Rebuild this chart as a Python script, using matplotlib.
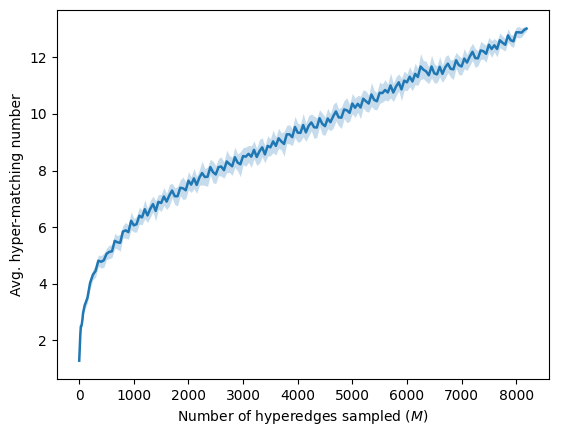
import numpy as np
import matplotlib
matplotlib.use('Agg')
import matplotlib.pyplot as plt

# sample positions (number of hyperedges sampled)
m_start = [0, 10, 20, 30, 40, 50, 60, 70, 80, 90]
m_main = list(range(100, 8200, 50))
m_end = [8190]

# mean hyper-matching number
avg_start = [1.27, 1.75, 2.20, 2.49, 2.50, 2.60, 2.75, 2.95, 3.05, 3.15]
avg_main = [
    3.23, 3.49, 4.03, 4.31, 4.45, 4.81, 4.77, 4.82, 5.05, 5.12,
    5.14, 5.51, 5.46, 5.44, 5.84, 5.88, 5.82, 6.22, 6.06, 6.10,
    6.40, 6.34, 6.63, 6.41, 6.64, 6.81, 6.57, 6.89, 6.85, 7.08,
    6.90, 7.12, 7.29, 7.09, 7.09, 7.39, 7.37, 7.30, 7.64, 7.50,
    7.72, 7.49, 7.75, 7.91, 7.77, 7.78, 8.12, 7.94, 7.86, 8.12,
    8.14, 8.01, 8.32, 8.23, 8.15, 8.47, 8.28, 8.22, 8.51, 8.49,
    8.59, 8.49, 8.73, 8.48, 8.68, 8.82, 8.57, 8.87, 8.82, 9.03,
    8.87, 9.14, 9.03, 8.94, 9.28, 9.28, 9.18, 9.54, 9.34, 9.33,
    9.61, 9.35, 9.58, 9.70, 9.53, 9.52, 9.85, 9.65, 9.57, 9.84,
    9.71, 9.92, 10.09, 9.88, 9.87, 10.16, 10.13, 10.04, 10.37, 10.22,
    10.36, 10.23, 10.54, 10.45, 10.37, 10.69, 10.50, 10.45, 10.75, 10.74,
    10.85, 10.76, 11.01, 10.76, 10.97, 11.12, 10.87, 11.18, 11.12, 11.32,
    11.15, 11.42, 11.31, 11.68, 11.57, 11.51, 11.37, 11.68, 11.44, 11.40,
    11.67, 11.42, 11.65, 11.78, 11.60, 11.58, 11.90, 11.73, 11.68, 11.96,
    11.82, 12.03, 12.20, 11.98, 11.97, 12.25, 12.22, 12.13, 12.45, 12.30,
    12.43, 12.30, 12.61, 12.52, 12.45, 12.78, 12.61, 12.57, 12.89, 12.89,
    12.88, 12.98,
]
avg_end = [13.02]

# half-width of the confidence band
err_start = [0.05, 0.08, 0.10, 0.10, 0.12, 0.12, 0.12, 0.14, 0.14, 0.15]
err_main = [
    0.15, 0.18, 0.20, 0.18, 0.22, 0.20, 0.22, 0.25, 0.20, 0.24,
    0.22, 0.26, 0.24, 0.30, 0.22, 0.28, 0.25, 0.32, 0.24, 0.28,
    0.30, 0.26, 0.34, 0.25, 0.30, 0.28, 0.36, 0.26, 0.30, 0.32,
    0.28, 0.38, 0.26, 0.30, 0.34, 0.28, 0.40, 0.30, 0.32, 0.28,
    0.36, 0.30, 0.28, 0.42, 0.30, 0.34, 0.28, 0.38, 0.32, 0.30,
    0.34, 0.28, 0.40, 0.30, 0.32, 0.36, 0.30, 0.44, 0.30, 0.34,
    0.30, 0.38, 0.32, 0.30, 0.42, 0.34, 0.30, 0.36, 0.30, 0.40,
    0.32, 0.36, 0.30, 0.44, 0.32, 0.34, 0.30, 0.38, 0.34, 0.30,
    0.42, 0.32, 0.36, 0.30, 0.40, 0.34, 0.30, 0.38, 0.32, 0.36,
    0.30, 0.42, 0.34, 0.30, 0.38, 0.32, 0.44, 0.30, 0.36, 0.34,
    0.30, 0.40, 0.32, 0.36, 0.30, 0.42, 0.34, 0.30, 0.38, 0.32,
    0.36, 0.30, 0.44, 0.32, 0.34, 0.30, 0.40, 0.34, 0.30, 0.36,
    0.32, 0.38, 0.30, 0.46, 0.32, 0.36, 0.30, 0.40, 0.34, 0.30,
    0.36, 0.30, 0.38, 0.32, 0.30, 0.36, 0.28, 0.34, 0.30, 0.36,
    0.28, 0.32, 0.30, 0.34, 0.26, 0.32, 0.28, 0.30, 0.26, 0.30,
    0.24, 0.28, 0.26, 0.24, 0.22, 0.24, 0.20, 0.22, 0.18, 0.20,
    0.16, 0.12,
]
err_end = [0.08]

m = np.array(m_start + m_main + m_end)
avg = np.array(avg_start + avg_main + avg_end)
err = np.array(err_start + err_main + err_end)
assert len(m) == len(avg) == len(err)

fig = plt.figure(figsize=(5.63, 4.36), dpi=100)
ax = fig.add_axes([0.101, 0.131, 0.874, 0.847])

ax.fill_between(m, avg - err, avg + err, color='#1f77b4', alpha=0.25, linewidth=0)
ax.plot(m, avg, color='#1f77b4', linewidth=1.8)

ax.set_xticks([0, 1000, 2000, 3000, 4000, 5000, 6000, 7000, 8000])
ax.set_yticks([2, 4, 6, 8, 10, 12])
ax.set_xlabel('Number of hyperedges sampled ($M$)')
ax.set_ylabel('Avg. hyper-matching number')

fig.savefig('out.png', dpi=100)
